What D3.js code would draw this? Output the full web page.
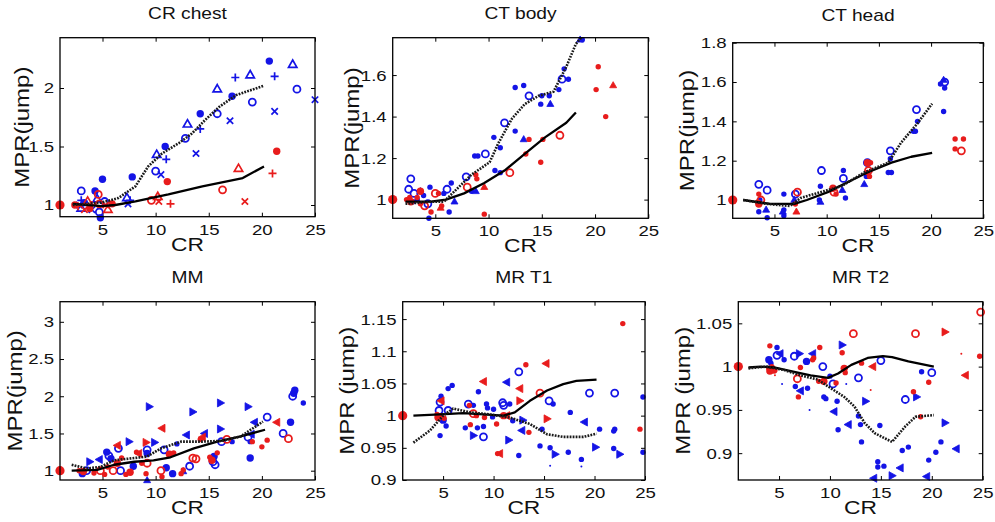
<!DOCTYPE html>
<html><head><meta charset="utf-8">
<script src="https://cdn.jsdelivr.net/npm/d3@7"></script>
<style>body{margin:0;background:#fff} svg{display:block}</style>
</head><body><svg id="c" width="995" height="522"></svg>
<script>
// ---------------- DATA ----------------
const titles = ["CR chest", "CT body", "CT head", "MM", "MR T1", "MR T2"];
const yLabels = ["MPR(jump)", "MPR(jump)", "MPR(jump)", "MPR(jump)", "MPR (jump)", "MPR (jump)"];
const xLabel = "CR";
const xDomain = [1, 25];
const xTicks = [5, 10, 15, 20, 25];

const yDomains = [[0.9, 2.43], [0.91, 1.78], [0.907, 1.8], [0.875, 3.27], [0.9, 1.177], [0.869, 1.075]];
const yTicks = [[1, 1.5, 2], [1, 1.2, 1.4, 1.6], [1, 1.2, 1.4, 1.6, 1.8], [1, 1.5, 2, 2.5, 3],
                [0.9, 0.95, 1, 1.05, 1.1, 1.15], [0.9, 0.95, 1, 1.05]];

// [CR, MPR, marker]
const chestBlue = [[20.7,2.23,'dot'],[22.9,2.2,'tri'],[21.2,2.1,'+'],[23.3,1.99,'o'],[25,1.9,'x'],[21.2,1.8,'x'],[18.9,2.11,'tri'],[17.5,2.09,'+'],[15.8,1.99,'tri'],[17.2,1.93,'dot'],[19.1,1.88,'o'],[15.8,1.78,'o'],[14.2,1.78,'dot'],[17.0,1.72,'x'],[13.0,1.69,'tri'],[14.2,1.65,'+'],[12.8,1.57,'o'],[13.8,1.44,'x'],[10.9,1.5,'dot'],[10.1,1.43,'tri'],[11.0,1.39,'+'],[10.0,1.29,'o'],[10.5,1.26,'x'],[7.8,1.24,'dot'],[5.0,1.22,'dot'],[4.3,1.12,'dot'],[3.0,1.12,'o'],[7.3,1.06,'tri'],[7.6,1.04,'+'],[7.4,1.01,'x'],[4.7,0.94,'o'],[4.8,0.89,'dot'],[3.0,0.97,'tri'],[3.0,1.04,'+'],[4.0,0.96,'x'],[3.3,1.02,'dot'],[5.2,1.03,'o'],[4.5,1.05,'tri'],[2.8,1.0,'x']];
const chestRed = [[1,1,'big'],[21.4,1.46,'dot'],[17.8,1.31,'tri'],[21.0,1.27,'+'],[16.3,1.13,'o'],[18.4,1.03,'x'],[11.1,1.2,'dot'],[9.6,1.04,'o'],[10.2,1.07,'tri'],[10.3,1.03,'x'],[11.4,1.01,'+'],[4.6,1.09,'o'],[2.4,1.0,'dot'],[2.7,0.99,'+'],[3.3,0.96,'x'],[5.5,0.96,'tri'],[5.9,1.01,'dot'],[4.7,1.01,'o'],[4.0,1.0,'+'],[3.6,1.03,'tri'],[5.3,1.0,'x'],[3.8,0.97,'dot']];
const chestSolid = [[2.2,1.01],[4.9,0.99],[6.2,1.0],[8.1,1.03],[11.2,1.09],[14.4,1.16],[18.2,1.23],[20.2,1.33]];
const chestDotted = [[2.2,1.0],[4.9,1.02],[6.5,1.06],[8.1,1.16],[9.3,1.33],[10.6,1.44],[12.2,1.53],[13.4,1.61],[14.7,1.73],[16.0,1.84],[17.6,1.94],[20.2,2.02]];

const bodyBlue = [[18.6,1.77,'ftri'],[18.8,1.77,'sdot'],[17.1,1.63,'sdot'],[17.5,1.58,'sdot'],[16.9,1.58,'o'],[16.6,1.53,'sdot'],[15.8,1.46,'ftri'],[15.7,1.5,'sdot'],[14.9,1.46,'sdot'],[15.0,1.5,'sdot'],[13.8,1.5,'o'],[12.5,1.54,'sdot'],[13.3,1.55,'sdot'],[11.5,1.37,'o'],[12.5,1.33,'sdot'],[13.3,1.29,'ftri'],[10.5,1.30,'sdot'],[11.1,1.25,'sdot'],[10.6,1.14,'sdot'],[11.1,1.13,'sdot'],[8.7,1.21,'sdot'],[9.0,1.21,'sdot'],[9.7,1.22,'o'],[7.9,1.11,'o'],[8.4,1.04,'sdot'],[8.8,1.04,'ftri'],[6.1,1.05,'o'],[6.5,1.08,'sdot'],[5.8,1.03,'sdot'],[6.3,0.94,'sdot'],[4.4,0.91,'sdot'],[6.8,0.99,'ftri'],[2.7,1.10,'o'],[2.5,1.05,'o'],[3.0,1.03,'o'],[4.5,1.06,'sdot'],[4.3,0.98,'o'],[3.3,1.0,'sdot'],[3.9,1.02,'sdot'],[2.9,0.99,'sdot'],[3.6,1.04,'ftri']];
const bodyRed = [[1,1,'big'],[20.3,1.64,'sdot'],[20.1,1.53,'sdot'],[21.0,1.40,'sdot'],[21.7,1.55,'ftri'],[16.7,1.31,'o'],[15.1,1.29,'sdot'],[13.8,1.29,'sdot'],[13.5,1.22,'sdot'],[14.9,1.18,'sdot'],[12.0,1.13,'o'],[9.6,1.06,'ftri'],[8.8,1.12,'sdot'],[8.9,1.10,'sdot'],[8.0,1.06,'o'],[9.6,0.93,'sdot'],[5.5,0.96,'ftri'],[5.6,0.97,'sdot'],[5.0,1.03,'o'],[5.3,1.03,'sdot'],[3.6,1.04,'dot'],[3.6,0.98,'sdot'],[4.6,0.94,'sdot'],[2.3,1.0,'sdot'],[2.7,0.99,'dot'],[3.3,1.01,'sdot'],[4.0,0.97,'o'],[2.6,1.01,'sdot']];
const bodySolid = [[2.2,0.99],[4.6,0.99],[6.0,1.0],[7.7,1.03],[9.6,1.08],[11.5,1.14],[13.4,1.22],[15.3,1.30],[17.3,1.37],[18.2,1.42]];
const bodyDotted = [[2.2,0.98],[4.6,0.99],[5.8,0.99],[6.8,1.04],[8.4,1.12],[10.1,1.18],[10.9,1.27],[12.2,1.39],[13.4,1.46],[14.7,1.50],[16.1,1.52],[17.3,1.64],[18.2,1.75],[18.7,1.78]];

const headBlue = [[21.2,1.61,'ftri'],[21.3,1.6,'o'],[20.9,1.59,'sdot'],[21.3,1.57,'sdot'],[21.2,1.45,'sdot'],[18.6,1.46,'o'],[18.7,1.40,'sdot'],[18.3,1.35,'sdot'],[18.5,1.35,'sdot'],[16.1,1.25,'o'],[16.1,1.21,'sdot'],[15.9,1.14,'sdot'],[16.2,1.14,'sdot'],[13.9,1.19,'o'],[13.8,1.12,'sdot'],[13.6,1.08,'ftri'],[11.6,1.11,'o'],[11.6,1.15,'sdot'],[11.5,1.05,'ftri'],[11.8,1.01,'sdot'],[9.5,1.15,'o'],[9.4,1.07,'sdot'],[9.3,1.0,'sdot'],[9.4,0.99,'ftri'],[7.0,1.03,'o'],[6.9,1.0,'ftri'],[5.9,1.03,'sdot'],[5.9,0.95,'sdot'],[5.9,0.92,'sdot'],[5.8,0.94,'ftri'],[3.5,1.08,'o'],[4.3,1.05,'o'],[3.5,0.94,'sdot'],[4.2,0.95,'ftri'],[4.3,0.91,'sdot'],[3.6,1.0,'sdot']];
const headRed = [[1,1,'big'],[22.3,1.31,'sdot'],[23.1,1.31,'sdot'],[22.9,1.25,'o'],[22.3,1.26,'sdot'],[13.9,1.19,'dot'],[14.2,1.19,'sdot'],[13.9,1.14,'sdot'],[14.1,1.12,'sdot'],[14.0,1.15,'o'],[10.6,1.06,'dot'],[10.9,1.03,'sdot'],[10.7,1.04,'o'],[7.2,1.04,'o'],[7.0,0.98,'sdot'],[7.1,0.94,'ftri'],[3.5,1.03,'sdot'],[3.5,0.98,'dot'],[3.7,1.0,'o'],[3.4,0.99,'sdot']];
const headSolid = [[2.0,1.0],[4.6,0.98],[6.9,0.98],[8.1,1.0],[10.1,1.04],[12.0,1.09],[13.9,1.14],[16.2,1.19],[18.1,1.22],[20.1,1.24]];
const headDotted = [[2.0,1.0],[4.3,0.98],[6.5,0.97],[7.5,1.01],[9.4,1.04],[11.4,1.07],[13.6,1.14],[15.9,1.19],[17.1,1.29],[18.7,1.39],[20.1,1.49]];

const mmBlue = [[9.4,1.86,'rt'],[13.5,1.79,'rt'],[16.1,1.91,'rt'],[18.7,1.86,'rt'],[23.1,2.08,'dot'],[23.0,2.04,'dot'],[22.9,2.0,'o'],[23.9,1.91,'sdot'],[20.5,1.72,'o'],[19.3,1.65,'lt'],[22.7,1.65,'dot'],[22.0,1.5,'o'],[19.0,1.49,'lt'],[18.7,1.45,'o'],[18.9,1.17,'dot'],[16.1,1.56,'rt'],[16.2,1.39,'o'],[15.4,1.12,'o'],[15.6,1.08,'o'],[15.5,1.19,'dot'],[14.6,1.5,'lt'],[12.9,1.48,'lt'],[12.0,1.36,'sdot'],[10.8,1.28,'o'],[11.0,1.04,'dot'],[9.9,1.38,'rt'],[9.2,1.28,'o'],[9.2,1.23,'dot'],[9.2,0.87,'ftri'],[7.5,1.39,'rt'],[6.5,1.3,'o'],[5.4,1.25,'dot'],[5.6,1.2,'o'],[5.8,1.16,'dot'],[4.7,1.15,'lt'],[3.8,1.12,'rt'],[3.1,0.96,'dot'],[3.5,1.0,'o'],[6.7,1.0,'o'],[13.2,1.06,'o'],[12.6,0.99,'ftri'],[11.6,0.96,'dot'],[17.2,1.39,'sdot'],[18.9,1.39,'sdot'],[7.9,1.06,'dot']];
const mmRed = [[1,1,'big'],[21.4,1.65,'lt'],[22.5,1.43,'o'],[20.5,1.41,'sdot'],[20.0,1.32,'sdot'],[19.1,1.39,'sdot'],[16.7,1.42,'o'],[15.8,1.24,'sdot'],[15.1,1.18,'sdot'],[15.3,1.14,'dot'],[14.4,1.45,'lt'],[14.2,1.42,'sdot'],[13.5,1.17,'o'],[13.8,1.16,'o'],[12.6,1.01,'sdot'],[12.4,0.96,'sdot'],[10.6,1.57,'lt'],[11.7,1.24,'sdot'],[11.3,1.22,'dot'],[10.5,1.0,'o'],[10.6,0.92,'sdot'],[9.1,1.38,'rt'],[8.4,1.23,'lt'],[8.2,1.25,'sdot'],[8.7,1.1,'sdot'],[9.1,0.96,'sdot'],[9.2,1.1,'o'],[6.4,1.34,'lt'],[6.8,1.17,'sdot'],[6.4,1.1,'dot'],[5.5,1.05,'sdot'],[4.8,1.0,'o'],[4.2,0.97,'sdot'],[3.2,0.99,'dot'],[5.2,0.95,'sdot'],[6.0,1.0,'o'],[7.2,0.95,'sdot'],[7.6,0.98,'dot'],[2.8,1.0,'sdot']];
const mmSolid = [[2.1,1.0],[4.5,1.01],[6.1,1.08],[8.0,1.12],[9.8,1.14],[11.4,1.18],[13.6,1.30],[15.8,1.39],[18.0,1.46],[20.3,1.55]];
const mmDotted = [[2.1,1.08],[3.5,1.03],[4.8,1.05],[6.1,1.14],[8.0,1.17],[9.2,1.19],[10.5,1.30],[12.4,1.39],[14.3,1.39],[16.2,1.40],[18.0,1.46],[20.1,1.66]];

const t1Blue = [[12.5,1.068,'o'],[11.3,1.052,'lt'],[8.5,1.037,'sdot'],[5.9,1.047,'sdot'],[5.5,1.042,'sdot'],[4.8,1.03,'sdot'],[4.7,1.021,'o'],[4.6,1.008,'o'],[5.5,1.008,'o'],[4.7,0.969,'sdot'],[5.3,0.984,'sdot'],[5.0,0.993,'dot'],[7.5,1.018,'o'],[8.0,1.016,'sdot'],[9.3,1.018,'sdot'],[9.4,1.012,'sdot'],[7.2,0.981,'sdot'],[8.0,0.969,'rt'],[9.0,0.967,'o'],[8.4,0.981,'sdot'],[9.0,0.983,'sdot'],[9.9,0.998,'sdot'],[10.9,1.02,'o'],[11.0,1.016,'o'],[11.6,1.018,'sdot'],[11.9,0.992,'sdot'],[11.5,0.962,'rt'],[12.9,0.993,'rt'],[12.5,0.938,'sdot'],[12.8,0.977,'lt'],[14.6,0.953,'sdot'],[14.8,0.979,'sdot'],[15.5,1.023,'o'],[15.9,1.018,'sdot'],[15.6,0.95,'sdot'],[16.1,0.94,'rt'],[15.6,0.922,'tiny'],[17.6,1.005,'sdot'],[17.4,0.943,'sdot'],[19.5,1.035,'o'],[19.0,0.99,'lt'],[20.1,0.951,'rt'],[18.7,0.932,'sdot'],[18.7,0.921,'tiny'],[20.5,0.979,'sdot'],[22.0,1.035,'o'],[22.0,0.979,'sdot'],[21.9,0.976,'sdot'],[21.9,0.949,'sdot'],[22.5,0.94,'rt'],[24.8,1.029,'sdot'],[24.8,0.943,'sdot'],[10.0,1.01,'sdot']];
const t1Red = [[1,1,'big'],[22.8,1.143,'sdot'],[24.5,0.979,'sdot'],[15.2,1.081,'lt'],[13.2,1.079,'sdot'],[14.6,1.035,'o'],[12.6,1.042,'lt'],[12.6,1.023,'rt'],[15.3,0.995,'rt'],[13.5,0.974,'sdot'],[11.3,1.0,'lt'],[11.0,1.0,'dot'],[10.3,0.987,'sdot'],[10.6,0.941,'lt'],[10.4,0.941,'sdot'],[9.0,1.053,'lt'],[9.1,0.997,'sdot'],[8.0,1.003,'o'],[8.3,1.0,'sdot'],[7.7,0.986,'sdot'],[7.6,1.016,'sdot'],[4.8,1.023,'lt'],[4.5,0.997,'dot'],[4.8,1.0,'sdot'],[5.1,0.996,'sdot'],[4.4,1.002,'sdot']];
const t1Solid = [[2.06,1.0],[4.7,1.002],[7.0,1.004],[9.0,1.002],[11.0,1.0],[12.1,1.005],[13.6,1.023],[15.3,1.039],[16.9,1.049],[18.2,1.054],[20.2,1.056]];
const t1Dotted = [[2.06,0.958],[3.7,0.977],[5.0,1.0],[6.0,1.011],[7.7,1.005],[9.6,1.002],[11.6,0.997],[13.6,0.987],[15.3,0.971],[16.9,0.967],[18.9,0.967],[20.2,0.972]];

const t2Blue = [[4.0,1.008,'dot'],[4.2,1.004,'sdot'],[4.8,1.022,'sdot'],[5.1,1.015,'lt'],[5.5,1.008,'sdot'],[4.8,1.013,'o'],[6.5,1.012,'o'],[7.0,1.015,'rt'],[6.6,0.977,'sdot'],[7.1,0.972,'lt'],[7.8,0.975,'sdot'],[7.7,1.006,'dot'],[8.3,1.015,'lt'],[9.3,1.0,'o'],[10.0,0.989,'sdot'],[10.3,0.98,'o'],[9.4,0.965,'sdot'],[9.6,0.963,'sdot'],[10.4,0.948,'lt'],[10.7,0.96,'sdot'],[10.8,0.927,'sdot'],[11.2,1.025,'rt'],[12.8,0.987,'o'],[15.0,1.007,'o'],[13.5,0.96,'rt'],[12.8,0.943,'sdot'],[13.0,0.933,'sdot'],[11.8,0.933,'lt'],[13.1,0.913,'sdot'],[14.9,0.932,'sdot'],[14.3,0.871,'lt'],[14.7,0.89,'sdot'],[15.3,0.885,'sdot'],[14.7,0.884,'sdot'],[16.1,0.874,'rt'],[16.9,0.883,'lt'],[17.1,0.903,'sdot'],[17.7,0.907,'sdot'],[17.4,0.962,'o'],[18.5,0.965,'rt'],[19.0,0.994,'sdot'],[20.0,0.993,'o'],[19.5,0.873,'lt'],[19.7,0.892,'sdot'],[20.9,0.913,'sdot'],[20.4,0.901,'sdot'],[21.3,0.935,'rt'],[22.4,0.905,'lt'],[8.0,0.95,'tiny'],[11.6,0.98,'tiny'],[5.3,0.98,'tiny']];
const t2Red = [[1,1,'big'],[24.8,1.063,'o'],[24.7,1.012,'sdot'],[23.3,0.99,'lt'],[21.3,1.04,'rt'],[18.4,1.038,'o'],[19.7,0.982,'sdot'],[18.2,0.971,'sdot'],[18.9,0.942,'sdot'],[22.9,1.015,'tiny'],[12.3,1.038,'o'],[11.2,1.016,'sdot'],[13.1,1.004,'sdot'],[11.4,0.998,'dot'],[11.5,0.993,'sdot'],[14.2,1.0,'lt'],[14.0,0.973,'tiny'],[10.6,0.981,'sdot'],[9.4,0.983,'dot'],[8.9,0.983,'sdot'],[9.0,1.022,'sdot'],[8.4,1.01,'sdot'],[8.3,1.008,'sdot'],[6.8,0.986,'o'],[6.9,0.965,'sdot'],[7.1,0.999,'sdot'],[4.1,1.024,'sdot'],[4.1,0.995,'dot'],[4.5,0.996,'dot'],[4.3,1.0,'sdot'],[4.0,0.998,'sdot'],[4.6,0.99,'tiny']];
const t2Solid = [[2.0,0.999],[3.2,1.0],[4.5,0.999],[6.5,0.994],[8.1,0.99],[9.8,0.987],[10.8,0.992],[12.1,1.002],[13.7,1.01],[15.2,1.012],[16.1,1.011],[17.7,1.006],[20.2,1.0]];
const t2Dotted = [[2.0,0.998],[3.8,1.0],[5.5,0.996],[7.1,0.99],[8.8,0.985],[10.1,0.975],[11.4,0.965],[12.4,0.954],[13.4,0.935],[14.4,0.923],[16.1,0.913],[17.4,0.931],[18.4,0.942],[20.2,0.944]];

const blueSets = [chestBlue, bodyBlue, headBlue, mmBlue, t1Blue, t2Blue];
const redSets = [chestRed, bodyRed, headRed, mmRed, t1Red, t2Red];
const solidSets = [chestSolid, bodySolid, headSolid, mmSolid, t1Solid, t2Solid];
const dottedSets = [chestDotted, bodyDotted, headDotted, mmDotted, t1Dotted, t2Dotted];

// ---------------- LAYOUT ----------------
const boxes = [
  {l: 60, r: 315, t: 37.7, b: 216.7, yl: 38},
  {l: 392.7, r: 648.3, t: 37.7, b: 218.3, yl: 41},
  {l: 732.7, r: 983.3, t: 42.7, b: 218.3, yl: 46},
  {l: 60, r: 315, t: 301.7, b: 480, yl: 45},
  {l: 402.7, r: 645, t: 301.7, b: 480, yl: 56},
  {l: 738.3, r: 982.7, t: 301.7, b: 480, yl: 55}
];
const titleY = [19, 19, 21, 283, 283, 283];
const BLUE = "#1414e6", RED = "#e81c1c";
const FONT = "'Liberation Sans', Arial, Helvetica, sans-serif";
const SX = 1.2;

const svg = d3.select("#c");

function markerPath(m) {
  switch (m) {
    case 'tri': return "M0,-4.6L4.2,2.7L-4.2,2.7Z";
    case 'ftri': return "M0,-3.8L3.5,2.3L-3.5,2.3Z";
    case '+': return "M-4,0H4M0,-4V4";
    case 'x': return "M-3.2,-3.2L3.2,3.2M-3.2,3.2L3.2,-3.2";
    case 'rt': return "M-3,-4L4.2,0L-3,4Z";
    case 'lt': return "M3,-4L-4.2,0L3,4Z";
  }
  return null;
}

function drawMarkers(g, pts, color, x, y) {
  pts.forEach(([cx, cy, m]) => {
    const px = x(cx), py = y(cy);
    if (m === 'dot' || m === 'sdot' || m === 'big' || m === 'tiny') {
      const r = m === 'big' ? 4.6 : m === 'dot' ? 3.7 : m === 'sdot' ? 2.7 : 1.0;
      g.append("circle").attr("cx", px).attr("cy", py).attr("r", r).attr("fill", color);
    } else if (m === 'o') {
      g.append("circle").attr("cx", px).attr("cy", py).attr("r", 3.5)
        .attr("fill", "none").attr("stroke", color).attr("stroke-width", 1.8);
    } else {
      const p = g.append("path").attr("d", markerPath(m)).attr("transform", `translate(${px},${py})`);
      if (m === 'tri' || m === '+' || m === 'x') {
        p.attr("fill", "none").attr("stroke", color).attr("stroke-width", 1.7);
      } else {
        p.attr("fill", color).attr("stroke", color).attr("stroke-width", 0.8);
      }
    }
  });
}

boxes.forEach((bx, i) => {
  const x = d3.scaleLinear().domain(xDomain).range([bx.l, bx.r]);
  const y = d3.scaleLinear().domain(yDomains[i]).range([bx.b, bx.t]);
  const g = svg.append("g");
  const w = bx.r - bx.l, h = bx.b - bx.t;

  const tk = 4;
  const axB = g.append("g").attr("transform", `translate(0,${bx.b})`)
    .call(d3.axisBottom(x).tickValues(xTicks).tickSizeInner(-tk).tickSizeOuter(0).tickPadding(7).tickFormat(d3.format("d")));
  const axT = g.append("g").attr("transform", `translate(0,${bx.t})`)
    .call(d3.axisTop(x).tickValues(xTicks).tickSizeInner(-tk).tickSizeOuter(0).tickFormat(""));
  const axL = g.append("g").attr("transform", `translate(${bx.l},0)`)
    .call(d3.axisLeft(y).tickValues(yTicks[i]).tickSizeInner(-tk).tickSizeOuter(0).tickPadding(6).tickFormat(d3.format("~g")));
  const axR = g.append("g").attr("transform", `translate(${bx.r},0)`)
    .call(d3.axisRight(y).tickValues(yTicks[i]).tickSizeInner(-tk).tickSizeOuter(0).tickFormat(""));
  [axB, axT, axL, axR].forEach(a => {
    a.select(".domain").remove();
    a.selectAll("line").attr("stroke", "#000").attr("stroke-width", 1);
    a.selectAll("text").attr("fill", "#111").style("font-family", FONT).style("font-size", "15.5px");
  });
  axB.selectAll("text").attr("transform", `scale(${SX},1)`);
  axL.selectAll("text").attr("transform", `scale(${SX},1)`).attr("x", -6 / SX);

  const mg = g.append("g");
  drawMarkers(mg, blueSets[i], BLUE, x, y);
  drawMarkers(mg, redSets[i], RED, x, y);

  const line = d3.line().x(d => x(d[0])).y(d => y(d[1])).curve(d3.curveLinear);
  g.append("path").datum(solidSets[i]).attr("d", line)
    .attr("fill", "none").attr("stroke", "#000").attr("stroke-width", 2.3).attr("stroke-linejoin", "round");
  g.append("path").datum(dottedSets[i]).attr("d", line)
    .attr("fill", "none").attr("stroke", "#1a1a1a").attr("stroke-width", 2.6).attr("stroke-dasharray", "1.8,1.2");

  g.append("rect").attr("x", bx.l).attr("y", bx.t).attr("width", w).attr("height", h)
    .attr("fill", "none").attr("stroke", "#000").attr("stroke-width", 1.3);

  g.append("text").attr("transform", `translate(${(bx.l + bx.r) / 2},${titleY[i]}) scale(${SX},1)`)
    .attr("text-anchor", "middle").style("font-family", FONT).style("font-size", "16px").attr("fill", "#111")
    .text(titles[i]);
  g.append("text").attr("transform", `translate(${(bx.l + bx.r) / 2},${bx.b + 34}) scale(${SX},1)`)
    .attr("text-anchor", "middle").style("font-family", FONT).style("font-size", "19px").attr("fill", "#111")
    .text(xLabel);
  g.append("text").attr("transform", `translate(${bx.l - bx.yl},${(bx.t + bx.b) / 2}) rotate(-90) scale(${SX},1)`)
    .attr("text-anchor", "middle").attr("dy", "0.35em").style("font-family", FONT).style("font-size", "20px").attr("fill", "#111")
    .text(yLabels[i]);
});
</script>
</body></html>
